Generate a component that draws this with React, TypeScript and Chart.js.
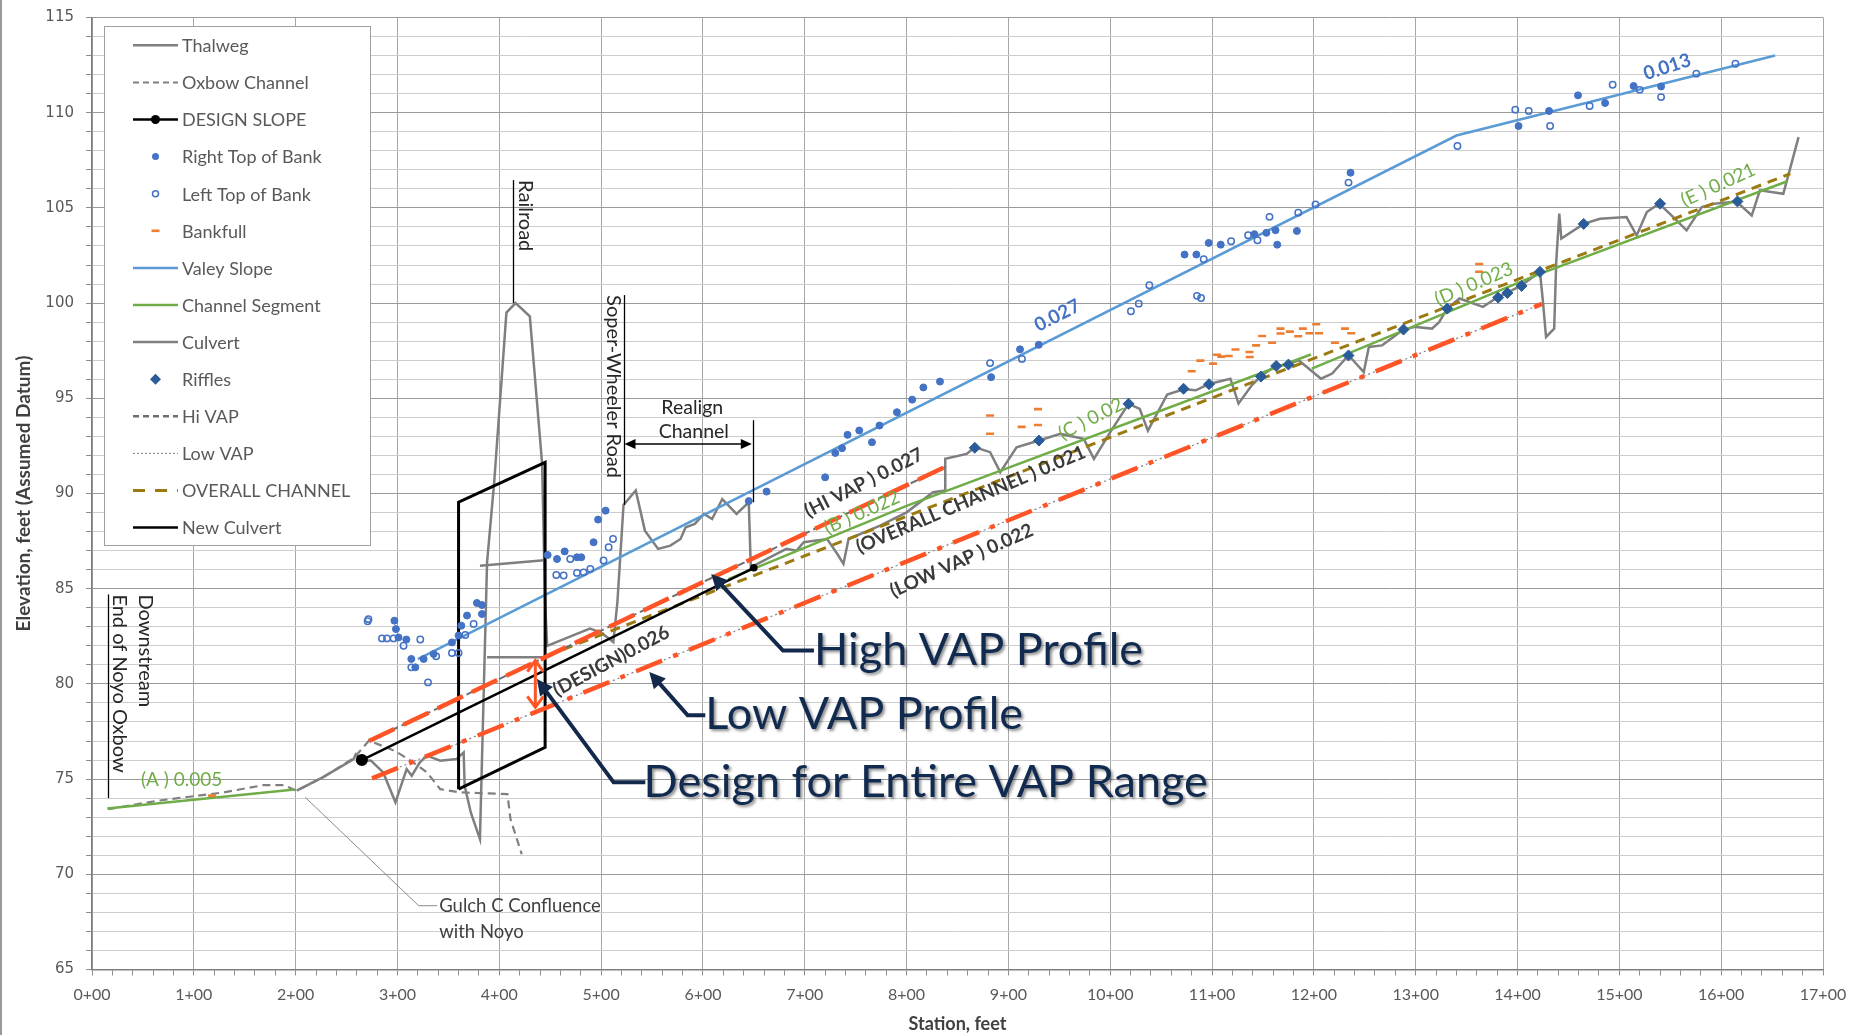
import React, { useEffect, useRef } from 'react';
import { Chart, registerables } from 'chart.js';

Chart.register(...registerables);

type Pt = [number, number] | null;

// ---------------- DATA (station ft, elevation ft) ----------------
const X_TICK_LABELS = ['0+00', '1+00', '2+00', '3+00', '4+00', '5+00', '6+00', '7+00', '8+00', '9+00', '10+00', '11+00', '12+00', '13+00', '14+00', '15+00', '16+00', '17+00'];
const Y_TICK_LABELS = ['65', '70', '75', '80', '85', '90', '95', '100', '105', '110', '115'];

const THALWEG: Pt[] = [
  [201, 74.4], [227, 75.1], [257, 76.05], [259, 76.3], [265, 76.0], [274, 75.97], [286, 75.35], [298, 73.78], [309, 75.53],
  [314, 75.18], [322, 75.88], [329, 76.23], [342, 75.97], [358, 76.05], [365, 76.4], [366, 74.65], [372, 73.25],
  [381, 71.85], [388, 86.4], [395, 90.6], [407, 99.5], [416, 100.0], [430, 99.3], [442, 91.6], [445, 84.3], [447, 82.0],
  [470, 82.5], [489, 82.9], [500, 82.7], [512, 82.2], [516, 84.3], [522, 89.4], [534, 90.16], [543, 88.05], [556, 87.09],
  [568, 87.26], [578, 87.61], [583, 88.23], [592, 88.4], [601, 88.93], [609, 88.66], [619, 89.71], [633, 88.93],
  [645, 89.54], [647, 86.12], [669, 86.74], [682, 87.09], [692, 87.0], [699, 87.44], [722, 87.61], [732, 86.82],
  [738, 86.3], [743, 87.61], [774, 88.31], [800, 89.01], [826, 90.07], [838, 90.16], [838, 91.82], [859, 92.08],
  [867, 92.43], [882, 92.17], [892, 91.12], [908, 92.43], [930, 92.78], [951, 93.13], [974, 92.87], [984, 91.82],
  [1000, 93.22], [1018, 94.71], [1029, 94.44], [1037, 93.3], [1056, 95.2], [1072, 95.47], [1084, 95.42], [1097, 95.75],
  [1118, 96.03], [1126, 94.72], [1139, 95.68], [1148, 96.16], [1162, 96.7], [1174, 96.77], [1185, 97.0], [1207, 96.03],
  [1218, 96.3], [1234, 97.26], [1249, 96.38], [1254, 97.7], [1267, 97.78], [1288, 98.61], [1300, 98.75], [1316, 98.66],
  [1323, 99.0], [1331, 99.71], [1343, 100.24], [1366, 99.8], [1380, 100.29], [1389, 100.53], [1403, 100.9],
  [1422, 101.64], [1425, 100.06], [1428, 98.22], [1436, 98.66], [1438, 102.16], [1441, 104.7], [1443, 103.39],
  [1465, 104.16], [1481, 104.43], [1507, 104.52], [1517, 103.55], [1527, 104.78], [1539, 105.22], [1553, 104.52],
  [1566, 103.82], [1581, 105.04], [1593, 105.22], [1615, 105.34], [1630, 104.6], [1638, 105.92], [1661, 105.74],
  [1676, 108.72],
];

const OXBOW_CHANNEL: Pt[] = [
  [16, 73.42], [64, 73.86], [129, 74.3], [168, 74.68], [188, 74.68], [201, 74.39], [227, 75.1], [257, 76.1],
  [272, 77.02], [293, 76.58], [300, 76.4], [313, 75.97], [329, 75.35], [342, 74.47], [362, 74.3], [408, 74.21],
  [411, 72.9], [422, 71.06],
];

const DESIGN_SLOPE: Pt[] = [[265, 76.0], [650, 86.1]];

const RIGHT_TOP_OF_BANK: Pt[] = [
  [297, 83.32], [298.5, 82.88], [301, 82.44], [308.7, 82.33], [313.6, 81.31], [317.5, 80.87], [325.7, 81.31],
  [335.5, 81.57], [353.5, 82.18], [360, 82.54], [362.7, 83.06], [368.3, 83.59], [378, 84.25], [383, 84.14], [383, 83.67],
  [447.5, 86.77], [456.7, 86.56], [464.2, 86.96], [476.3, 86.65], [480.5, 86.65], [492.6, 87.44], [497, 88.63],
  [504.4, 89.1], [645, 89.6], [662.5, 90.1], [720, 90.85], [730, 92.13], [736.6, 92.38], [742, 93.08], [753.5, 93.31],
  [766, 92.69], [773.4, 93.57], [790.5, 94.27], [805.5, 94.93], [816.5, 95.57], [832.8, 95.88], [883, 96.11],
  [911.4, 97.57], [929.8, 97.81], [1073, 102.55], [1084.6, 102.55], [1096.7, 103.16], [1108.5, 103.07],
  [1141.6, 103.62], [1153.4, 103.69], [1162.3, 103.83], [1164, 103.07], [1183.3, 103.79], [1236, 106.85],
  [1401, 109.3], [1431, 110.09], [1459.4, 110.91], [1486, 110.51], [1514, 111.4], [1541, 111.38],
];

const LEFT_TOP_OF_BANK: Pt[] = [
  [270.7, 83.29], [271.5, 83.4], [284.8, 82.39], [289.7, 82.39], [296.2, 82.39], [306, 82.0], [313.6, 80.87],
  [322.4, 82.33], [330, 80.08], [338, 81.45], [353.5, 81.62], [360, 81.62], [366.6, 82.57], [374.8, 83.15],
  [456, 85.72], [463.2, 85.69], [469.7, 86.56], [476.3, 85.83], [482.8, 85.86], [489.4, 86.04], [502.4, 86.48],
  [507.4, 87.18], [511.7, 87.61], [882, 96.85], [913.3, 97.07], [1020.3, 99.57], [1028, 99.97], [1038.4, 100.94],
  [1085.2, 100.38], [1089.2, 100.27], [1091.8, 102.3], [1118.7, 103.25], [1135.4, 103.56], [1144.6, 103.3],
  [1156.4, 104.53], [1184.6, 104.75], [1201.6, 105.18], [1234, 106.33], [1341, 108.25], [1397.8, 110.16],
  [1411, 110.09], [1432, 109.3], [1470.8, 110.35], [1493.4, 111.47], [1520, 111.2], [1541, 110.82],
  [1575.6, 112.05], [1614, 112.57],
];

const BANKFULL: Pt[] = [
  [118, 74.13], [882, 94.1], [882, 93.14], [913, 93.5], [929, 94.43], [929, 93.6], [1080, 96.42], [1088.5, 96.98],
  [1101, 96.82], [1105, 97.29], [1109, 97.19], [1116.4, 97.22], [1123, 97.56], [1136.7, 97.43], [1137, 97.17],
  [1143.3, 97.78], [1149.2, 98.27], [1159, 97.92], [1167.2, 98.66], [1167.2, 98.4], [1176.4, 98.5], [1184.6, 98.26],
  [1189.2, 98.66], [1195.7, 98.42], [1202.3, 98.89], [1205, 98.42], [1220.7, 97.92], [1230.5, 98.66], [1236.7, 98.42],
  [1362.3, 102.05], [1362.3, 101.65],
];

const VALEY_SLOPE: Pt[] = [[320, 81.3], [1340, 108.8], [1653, 113.0]];

const CHANNEL_SEGMENT: Pt[] = [
  [15, 73.45], [199, 74.45], null,
  [625, 85.5], [800, 89.35], [1197, 97.3], null,
  [1198, 96.56], [1420, 101.5], [1665, 106.4],
];

const CULVERT: Pt[] = [[381, 86.2], [444, 86.5], null, [388, 81.4], [444, 81.4]];

const RIFFLES: Pt[] = [
  [867, 92.4], [930, 92.78], [1018, 94.71], [1072, 95.5], [1097, 95.74], [1148, 96.14], [1163, 96.7], [1175, 96.77],
  [1234, 97.25], [1288, 98.61], [1331, 99.71], [1381, 100.29], [1390, 100.53], [1404, 100.9], [1422, 101.64],
  [1465, 104.16], [1540, 105.22], [1616, 105.34],
];

const HI_VAP: Pt[] = [[272, 77.0], [838, 91.4]];
const LOW_VAP: Pt[] = [[275, 75.04], [1424, 99.96]];
const OVERALL_CHANNEL: Pt[] = [[447, 81.48], [1668, 106.8]];
const NEW_CULVERT: Pt[] = [[360, 74.47], [360, 89.54], [445, 91.64], [445, 76.67], [360, 74.47]];

// ---------------- STYLE ----------------
const GRAY = '#7f7f7f';
const GREEN = '#70AD47';
const BLUE_PT = '#4472C4';
const BLUE_LINE = '#5B9BD5';
const ORANGE = '#ED7D31';
const RIFFLE_BLUE = '#2B5C9A';
const BROWN = '#9C7A12';
const RED = '#FF5426';
const NAVY = '#13294B';
const DARK = '#3A3A3A';
const FONT = "Lato, 'Open Sans', sans-serif";
const NARROW = "'Liberation Sans Narrow', 'Arial Narrow', Lato, sans-serif";

// ---------------- ANNOTATIONS (in data coordinates) ----------------
const SLOPE_LABELS = [
  { text: '(A ) 0.005', x: 88, y: 74.95, angle: 0, color: GREEN, bold: false },
  { text: '(DESIGN)0.026', x: 510, y: 81.2, angle: 28, color: DARK, bold: true },
  { text: '(HI VAP ) 0.027', x: 758, y: 90.56, angle: 27, color: DARK, bold: true },
  { text: '(B ) 0.022', x: 756, y: 89.0, angle: 24, color: GREEN, bold: false },
  { text: '(OVERALL CHANNEL ) 0.021', x: 863, y: 89.68, angle: 23, color: DARK, bold: true },
  { text: '(LOW VAP ) 0.022', x: 854, y: 86.48, angle: 24, color: DARK, bold: true },
  { text: '(C ) 0.02', x: 981, y: 93.92, angle: 27, color: GREEN, bold: false },
  { text: '0.027', x: 948, y: 99.35, angle: 27, color: BLUE_PT, bold: true },
  { text: '0.013', x: 1547, y: 112.4, angle: 18, color: BLUE_PT, bold: true },
  { text: '(D ) 0.023', x: 1357, y: 101.0, angle: 23, color: GREEN, bold: false },
  { text: '(E ) 0.021', x: 1597, y: 106.2, angle: 24.5, color: GREEN, bold: false },
];

const MARKER_LINES = [
  { x: 16, y1: 84.7, y2: 74.0 },
  { x: 413.5, y1: 106.46, y2: 100.0 },
  { x: 522, y1: 100.42, y2: 89.4 },
  { x: 649, y1: 93.85, y2: 89.54 },
];

const VERTICAL_TEXTS = [
  { text: 'Railroad', x: 425.6, y: 106.46 },
  { text: 'Soper-Wheeler Road', x: 512.3, y: 100.42 },
  { text: 'Downstream', x: 52.8, y: 84.7 },
  { text: 'End of Noyo Oxbow', x: 27, y: 84.7 },
];

const REALIGN_ARROW = { x1: 522, x2: 649, y: 92.6 };
const PLAIN_TEXTS = [
  { text: 'Realign', x: 589.5, y: 94.48, align: 'center' },
  { text: 'Channel', x: 591, y: 93.22, align: 'center' },
  { text: 'Gulch C Confluence', x: 341, y: 68.35, align: 'left' },
  { text: 'with Noyo', x: 341, y: 66.95, align: 'left' },
];
const GULCH_LEADER: [number, number][] = [[209.5, 74.04], [320.8, 68.35], [339, 68.35]];

const CALLOUTS = [
  { text: 'High VAP Profile', tx: 709, ty: 81.75, path: [[709, 81.75], [678.6, 81.75], [608.2, 85.77]] },
  { text: 'Low VAP Profile', tx: 602.3, ty: 78.4, path: [[602.3, 78.35], [585, 78.35], [547.3, 80.63]] },
  { text: 'Design for Entire VAP Range', tx: 541.7, ty: 74.8, path: [[543.4, 74.83], [512.3, 74.83], [437, 80.26]] },
];
const RANGE_ARROW = { x: 435.4, y1: 81.22, y2: 78.77 };

const LEGEND_ITEMS = [
  { label: 'Thalweg', kind: 'line', color: GRAY, width: 2.5, dash: [] },
  { label: 'Oxbow Channel', kind: 'line', color: GRAY, width: 2, dash: [6, 4] },
  { label: 'DESIGN SLOPE', kind: 'linedot', color: '#000', width: 2.5, dash: [] },
  { label: 'Right Top of Bank', kind: 'dot', color: BLUE_PT },
  { label: 'Left Top of Bank', kind: 'ring', color: BLUE_PT },
  { label: 'Bankfull', kind: 'dash', color: ORANGE },
  { label: 'Valey Slope', kind: 'line', color: BLUE_LINE, width: 2.5, dash: [] },
  { label: 'Channel Segment', kind: 'line', color: GREEN, width: 2.5, dash: [] },
  { label: 'Culvert', kind: 'line', color: GRAY, width: 2.5, dash: [] },
  { label: 'Riffles', kind: 'diamond', color: RIFFLE_BLUE },
  { label: 'Hi VAP', kind: 'line', color: '#6E6E6E', width: 2.5, dash: [6, 4] },
  { label: 'Low VAP', kind: 'line', color: GRAY, width: 1, dash: [2, 2] },
  { label: 'OVERALL CHANNEL', kind: 'line', color: BROWN, width: 3, dash: [12, 10] },
  { label: 'New Culvert', kind: 'line', color: '#000', width: 2.5, dash: [] },
];

// ---------------- helpers ----------------
const toData = (arr: Pt[]) => {
  let lastX = 0;
  return arr.map((p) => {
    if (p) { lastX = p[0]; return { x: p[0], y: p[1] }; }
    return { x: lastX, y: null as any };
  });
};

const lineDs = (label: string, arr: Pt[], color: string, width: number, dash: number[], order: number) => ({
  label, data: toData(arr), showLine: true, borderColor: color, borderWidth: width, borderDash: dash,
  pointRadius: 0, pointHoverRadius: 0, fill: false, spanGaps: false, order, tension: 0,
});

const pointDs = (label: string, arr: Pt[], style: string, radius: number, bg: string, border: string, bw: number, order: number) => ({
  label, data: toData(arr), showLine: false, pointStyle: style, pointRadius: radius, pointHoverRadius: radius,
  pointBackgroundColor: bg, pointBorderColor: border, pointBorderWidth: bw, backgroundColor: bg, borderColor: border, order,
});

function arrowHead(ctx: CanvasRenderingContext2D, fx: number, fy: number, tx: number, ty: number, len: number, half: number) {
  const a = Math.atan2(ty - fy, tx - fx);
  ctx.beginPath();
  ctx.moveTo(tx, ty);
  ctx.lineTo(tx - len * Math.cos(a) + half * Math.sin(a), ty - len * Math.sin(a) - half * Math.cos(a));
  ctx.lineTo(tx - len * Math.cos(a) - half * Math.sin(a), ty - len * Math.sin(a) + half * Math.cos(a));
  ctx.closePath();
  ctx.fill();
}

function chevron(ctx: CanvasRenderingContext2D, fx: number, fy: number, tx: number, ty: number, len: number, half: number) {
  const a = Math.atan2(ty - fy, tx - fx);
  ctx.beginPath();
  ctx.moveTo(tx - len * Math.cos(a) + half * Math.sin(a), ty - len * Math.sin(a) - half * Math.cos(a));
  ctx.lineTo(tx, ty);
  ctx.lineTo(tx - len * Math.cos(a) - half * Math.sin(a), ty - len * Math.sin(a) + half * Math.cos(a));
  ctx.stroke();
}

const decorPlugin = {
  id: 'decor',
  beforeDraw(chart: any) {
    const ctx = chart.ctx as CanvasRenderingContext2D;
    ctx.save();
    ctx.fillStyle = '#ffffff';
    ctx.fillRect(0, 0, chart.width, chart.height);
    ctx.fillStyle = '#9a9a9a';
    ctx.fillRect(0, 0, 2, chart.height);
    ctx.restore();
  },
  afterDatasetsDraw(chart: any) {
    const ctx = chart.ctx as CanvasRenderingContext2D;
    const xs = chart.scales.x, ys = chart.scales.y;
    const px = (v: number) => xs.getPixelForValue(v);
    const py = (v: number) => ys.getPixelForValue(v);
    ctx.save();

    // marker lines
    ctx.strokeStyle = '#000';
    ctx.lineWidth = 1.3;
    MARKER_LINES.forEach((l) => {
      ctx.beginPath();
      ctx.moveTo(Math.round(px(l.x)) + 0.5, py(l.y1));
      ctx.lineTo(Math.round(px(l.x)) + 0.5, py(l.y2));
      ctx.stroke();
    });

    // realign arrow
    {
      const x1 = px(REALIGN_ARROW.x1), x2 = px(REALIGN_ARROW.x2), y = py(REALIGN_ARROW.y);
      ctx.beginPath(); ctx.moveTo(x1 + 4, y); ctx.lineTo(x2 - 4, y); ctx.stroke();
      ctx.fillStyle = '#000';
      arrowHead(ctx, x2, y, x1 + 1, y, 11, 5);
      arrowHead(ctx, x1, y, x2 - 1, y, 11, 5);
    }

    // gulch leader
    ctx.strokeStyle = '#8a8a8a';
    ctx.lineWidth = 1;
    ctx.beginPath();
    GULCH_LEADER.forEach((p, i) => (i ? ctx.lineTo(px(p[0]), py(p[1])) : ctx.moveTo(px(p[0]), py(p[1]))));
    ctx.stroke();

    // vertical texts
    ctx.fillStyle = '#262626';
    ctx.font = `20px ${FONT}`;
    ctx.textAlign = 'left';
    ctx.textBaseline = 'middle';
    VERTICAL_TEXTS.forEach((t) => {
      ctx.save();
      ctx.translate(px(t.x), py(t.y));
      ctx.rotate(Math.PI / 2);
      ctx.fillText(t.text, 0, 0);
      ctx.restore();
    });

    // plain texts
    PLAIN_TEXTS.forEach((t) => {
      ctx.textAlign = t.align as CanvasTextAlign;
      ctx.fillStyle = t.align === 'left' ? '#404040' : '#262626';
      ctx.font = `${t.align === 'left' ? 18.5 : 19.5}px ${FONT}`;
      ctx.fillText(t.text, px(t.x), py(t.y));
    });

    // slope labels
    SLOPE_LABELS.forEach((l) => {
      ctx.save();
      ctx.translate(px(l.x), py(l.y));
      ctx.rotate((-l.angle * Math.PI) / 180);
      ctx.font = `${l.bold ? 'bold ' : ''}19px ${FONT}`;
      ctx.fillStyle = l.color;
      ctx.textAlign = 'center';
      ctx.textBaseline = 'middle';
      ctx.fillText(l.text, 0, 0);
      ctx.restore();
    });

    // range arrow (red, double)
    {
      const x = px(RANGE_ARROW.x), y1 = py(RANGE_ARROW.y1), y2 = py(RANGE_ARROW.y2);
      ctx.strokeStyle = RED;
      ctx.lineWidth = 3;
      ctx.beginPath(); ctx.moveTo(x, y1 + 1); ctx.lineTo(x, y2 - 1); ctx.stroke();
      chevron(ctx, x, y2, x, y1, 11, 8);
      chevron(ctx, x, y1, x, y2, 11, 8);
    }

    // callouts
    CALLOUTS.forEach((c) => {
      ctx.strokeStyle = NAVY;
      ctx.fillStyle = NAVY;
      ctx.lineWidth = 4;
      ctx.lineJoin = 'miter';
      const pts = c.path.map((p) => [px(p[0]), py(p[1])]);
      const n = pts.length;
      const a = Math.atan2(pts[n - 1][1] - pts[n - 2][1], pts[n - 1][0] - pts[n - 2][0]);
      ctx.beginPath();
      pts.forEach((p, i) => {
        const q = i === n - 1 ? [p[0] - 12 * Math.cos(a), p[1] - 12 * Math.sin(a)] : p;
        i ? ctx.lineTo(q[0], q[1]) : ctx.moveTo(q[0], q[1]);
      });
      ctx.stroke();
      arrowHead(ctx, pts[n - 2][0], pts[n - 2][1], pts[n - 1][0], pts[n - 1][1], 16, 8);
      ctx.save();
      ctx.shadowColor = 'rgba(0,0,0,0.45)';
      ctx.shadowBlur = 3;
      ctx.shadowOffsetX = 2;
      ctx.shadowOffsetY = 2;
      ctx.font = `45px ${FONT}`;
      ctx.textAlign = 'left';
      ctx.textBaseline = 'middle';
      ctx.fillStyle = '#112A4F';
      ctx.fillText(c.text, px(c.tx), py(c.ty));
      ctx.restore();
    });

    // legend
    const LX = 104.5, LY = 26.5, LW = 266, LH = 519;
    ctx.fillStyle = '#ffffff';
    ctx.fillRect(LX, LY, LW, LH);
    ctx.strokeStyle = '#a0a0a0';
    ctx.lineWidth = 1;
    ctx.strokeRect(LX, LY, LW, LH);
    ctx.font = `18px ${FONT}`;
    ctx.textAlign = 'left';
    ctx.textBaseline = 'middle';
    LEGEND_ITEMS.forEach((it: any, i) => {
      const y = 45.3 + i * 37.1;
      const x1 = 133, x2 = 178, xc = 155.5;
      ctx.save();
      if (it.kind === 'line' || it.kind === 'linedot') {
        ctx.strokeStyle = it.color;
        ctx.lineWidth = it.width;
        ctx.setLineDash(it.dash);
        ctx.beginPath(); ctx.moveTo(x1, y); ctx.lineTo(x2, y); ctx.stroke();
        if (it.kind === 'linedot') {
          ctx.fillStyle = it.color;
          ctx.beginPath(); ctx.arc(xc, y, 4.5, 0, Math.PI * 2); ctx.fill();
        }
      } else if (it.kind === 'dot') {
        ctx.fillStyle = it.color;
        ctx.beginPath(); ctx.arc(xc, y, 3.5, 0, Math.PI * 2); ctx.fill();
      } else if (it.kind === 'ring') {
        ctx.strokeStyle = it.color; ctx.lineWidth = 1.5;
        ctx.beginPath(); ctx.arc(xc, y, 3, 0, Math.PI * 2); ctx.stroke();
      } else if (it.kind === 'dash') {
        ctx.fillStyle = it.color;
        ctx.fillRect(xc - 4, y - 1.3, 8, 2.6);
      } else if (it.kind === 'diamond') {
        ctx.fillStyle = it.color;
        ctx.beginPath(); ctx.moveTo(xc, y - 5.5); ctx.lineTo(xc + 5.5, y); ctx.lineTo(xc, y + 5.5); ctx.lineTo(xc - 5.5, y); ctx.closePath(); ctx.fill();
      }
      ctx.restore();
      ctx.fillStyle = '#595959';
      ctx.fillText(it.label, 182, y + 1);
    });

    ctx.restore();
  },
};

export default function App() {
  const ref = useRef<HTMLCanvasElement>(null);
  useEffect(() => {
    document.body.style.margin = '0';
    document.body.style.overflow = 'hidden';
    const datasets: any[] = [
      pointDs('Riffles', RIFFLES, 'rectRot', 5.5, RIFFLE_BLUE, RIFFLE_BLUE, 1, 0),
      pointDs('Right Top of Bank', RIGHT_TOP_OF_BANK, 'circle', 3.5, BLUE_PT, BLUE_PT, 1, 1),
      pointDs('Left Top of Bank', LEFT_TOP_OF_BANK, 'circle', 3.2, 'rgba(255,255,255,0)', BLUE_PT, 1.5, 1),
      pointDs('Bankfull', BANKFULL, 'line', 4, ORANGE, ORANGE, 2.6, 1),
      { ...lineDs('DESIGN SLOPE', DESIGN_SLOPE, '#000', 2.5, [], 2), pointRadius: [4.8, 2.5], pointBackgroundColor: '#000', pointBorderColor: '#000' },
      { ...lineDs('Hi VAP overlay', HI_VAP, RED, 4.5, [28, 10], 3) },
      { ...lineDs('Low VAP overlay', LOW_VAP, RED, 4.5, [28, 12, 5, 12], 3) },
      lineDs('New Culvert', NEW_CULVERT, '#000', 3, [], 3),
      lineDs('Hi VAP', HI_VAP, '#6E6E6E', 2, [8, 4], 4),
      lineDs('Low VAP', LOW_VAP, GRAY, 1.2, [2, 3], 4),
      lineDs('OVERALL CHANNEL', OVERALL_CHANNEL, BROWN, 3, [10, 7], 4),
      lineDs('Channel Segment', CHANNEL_SEGMENT, GREEN, 2.5, [], 5),
      lineDs('Valey Slope', VALEY_SLOPE, BLUE_LINE, 2.5, [], 5),
      lineDs('Culvert', CULVERT, GRAY, 2.5, [], 6),
      lineDs('Thalweg', THALWEG, GRAY, 2.5, [], 6),
      lineDs('Oxbow Channel', OXBOW_CHANNEL, GRAY, 2.2, [8, 5], 6),
    ];
    const chart = new Chart(ref.current as HTMLCanvasElement, {
      type: 'scatter',
      data: { datasets },
      plugins: [decorPlugin],
      options: {
        responsive: false,
        animation: false,
        devicePixelRatio: 1,
        events: [],
        layout: { padding: { top: 17.5, right: 45, bottom: 0, left: 0 } },
        plugins: { legend: { display: false }, tooltip: { enabled: false } },
        scales: {
          x: {
            type: 'linear', min: 0, max: 1700,
            afterFit: (s: any) => { s.height = 65.5; s.paddingLeft = 0; s.paddingRight = 0; },
            ticks: {
              stepSize: 20, autoSkip: false, maxRotation: 0, minRotation: 0, padding: 10,
              color: '#595959', font: { family: NARROW, size: 16 },
              callback: (v: any) => (Number(v) % 100 === 0 ? X_TICK_LABELS[Number(v) / 100] : ''),
            },
            grid: {
              color: (c: any) => (c.tick && c.tick.value % 100 === 0 ? '#A6A6A6' : 'rgba(0,0,0,0)'),
              tickColor: '#8c8c8c', tickLength: 6, lineWidth: 1,
            },
            border: { display: true, color: '#7f7f7f', width: 1.5 },
            title: { display: true, text: 'Station, feet', color: '#404040', font: { family: NARROW, size: 18, weight: 'bold' }, padding: { top: 0, bottom: 0 } },
          },
          y: {
            type: 'linear', min: 65, max: 115,
            afterFit: (s: any) => { s.width = 92; s.paddingTop = 0; s.paddingBottom = 0; },
            ticks: {
              stepSize: 1, autoSkip: false, padding: 12,
              color: '#595959', font: { family: "'DejaVu Sans', Verdana, sans-serif", size: 15 },
              callback: (v: any) => (Number(v) % 5 === 0 ? Y_TICK_LABELS[(Number(v) - 65) / 5] : ''),
            },
            grid: {
              color: (c: any) => (c.tick && c.tick.value % 5 === 0 ? '#9a9a9a' : '#cdcdcd'),
              tickColor: '#8c8c8c', tickLength: 6, lineWidth: 1,
            },
            border: { display: true, color: '#7f7f7f', width: 1.5 },
            title: { display: true, text: 'Elevation, feet (Assumed Datum)', color: '#404040', font: { family: NARROW, size: 19, weight: 'bold' }, padding: { top: 12, bottom: 0 } },
          },
        },
      } as any,
    });
    return () => chart.destroy();
  }, []);
  return (
    <div style={{ width: 1868, height: 1035, position: 'relative' }}>
      <canvas ref={ref} width={1868} height={1035} style={{ display: 'block' }} />
    </div>
  );
}
